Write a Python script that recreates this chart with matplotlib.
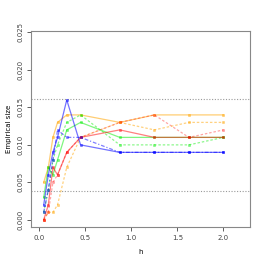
import numpy as np
import matplotlib
matplotlib.use('Agg')
import matplotlib.pyplot as plt

# bandwidths
h = [0.05, 0.1, 0.15, 0.2, 0.3, 0.45, 0.875, 1.25, 1.625, 2.0]

# empirical sizes (n = 1000 replications)
orange_solid = [0.005, 0.007, 0.011, 0.013, 0.014, 0.014, 0.013, 0.014, 0.014, 0.014]
orange_dash = [0.000, 0.001, 0.001, 0.002, 0.007, 0.011, 0.013, 0.012, 0.013, 0.013]
green_solid = [0.003, 0.007, 0.006, 0.008, 0.012, 0.013, 0.011, 0.011, 0.011, 0.011]
green_dash = [0.001, 0.004, 0.008, 0.010, 0.013, 0.014, 0.010, 0.010, 0.010, 0.011]
red_solid = [0.000, 0.002, 0.007, 0.006, 0.009, 0.011, 0.012, 0.011, 0.011, 0.011]
red_dash = [0.000, 0.001, 0.005, 0.006, 0.009, 0.011, 0.013, 0.014, 0.011, 0.012]
blue_solid = [0.002, 0.006, 0.009, 0.011, 0.016, 0.010, 0.009, 0.009, 0.009, 0.009]
blue_dash = [0.001, 0.004, 0.008, 0.012, 0.011, 0.011, 0.009, 0.009, 0.009, 0.009]

alpha_level = 0.01
n_rep = 1000

fig = plt.figure(figsize=(2.66, 2.66), dpi=100)
ax = fig.add_axes([0.1165, 0.1455, 0.8235, 0.738])

# confidence band for nominal size
half = 1.96 * np.sqrt(alpha_level * (1 - alpha_level) / n_rep)
for yv in [alpha_level - half, alpha_level + half]:
    ax.axhline(yv, color='#999999', lw=0.8, ls=(0, (1, 1.5)))

series = [
    (orange_solid, '#FFA500', '-', 0.55),
    (orange_dash, '#FFA500', (0, (2, 1.5)), 0.5),
    (green_solid, '#00EE00', '-', 0.5),
    (green_dash, '#00EE00', (0, (2, 1.5)), 0.45),
    (red_solid, '#FF0000', '-', 0.5),
    (red_dash, '#FF0000', (0, (2, 1.5)), 0.35),
    (blue_solid, '#0000FF', '-', 0.55),
    (blue_dash, '#0000FF', (0, (3, 1.5, 1, 1.5)), 0.5),
]
for vals, col, ls, a in series:
    ax.plot(h, vals, color=col, ls=ls, lw=0.9, alpha=a,
            marker='s', ms=1.8, mew=0.4)

ax.set_xlim(-0.088, 2.288)
ax.set_ylim(-0.001, 0.0252)
ax.set_xticks([0.0, 0.5, 1.0, 1.5, 2.0])
ax.set_yticks([0.000, 0.005, 0.010, 0.015, 0.020, 0.025])
ax.set_xticklabels(['0.0', '0.5', '1.0', '1.5', '2.0'])
ax.set_yticklabels(['0.000', '0.005', '0.010', '0.015', '0.020', '0.025'],
                   rotation=90, va='center')
ax.tick_params(labelsize=5, length=3, width=0.6, colors='#444444', pad=2.5)
for s in ax.spines.values():
    s.set_color('#888888')
    s.set_linewidth(0.8)

ax.set_xlabel('h', fontsize=5, labelpad=6)
ax.set_ylabel('Empirical size', fontsize=5, labelpad=4)

fig.savefig('out.png', dpi=100)
